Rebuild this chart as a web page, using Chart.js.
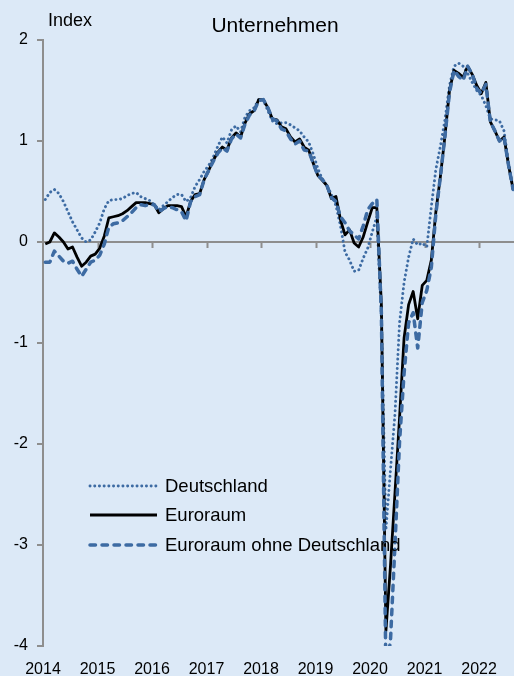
<!DOCTYPE html>
<html>
<head>
<meta charset="utf-8">
<script src="https://cdn.jsdelivr.net/npm/chart.js@4.4.1/dist/chart.umd.min.js"></script>
<style>
  html, body { margin: 0; padding: 0; background: #dce9f7; }
  canvas { display: block; }
</style>
</head>
<body>
<canvas id="chart" width="514" height="676"></canvas>
<script>
// monthly, Jan 2014 .. Aug 2022
const yearLabels = ['2014', '2015', '2016', '2017', '2018', '2019', '2020', '2021', '2022'];
const yTicks = [-4, -3, -2, -1, 0, 1, 2];

const deutschland = [
  0.42, 0.49, 0.52, 0.48, 0.40, 0.30, 0.20, 0.12, 0.04, 0.00, 0.02, 0.10,
  0.19, 0.33, 0.41, 0.42, 0.42, 0.43, 0.46, 0.48, 0.49, 0.45, 0.43, 0.41,
  0.37, 0.32, 0.36, 0.40, 0.44, 0.47, 0.47, 0.40, 0.44, 0.55, 0.62, 0.70,
  0.76, 0.84, 0.95, 1.04, 0.98, 1.11, 1.15, 1.09, 1.24, 1.30, 1.33, 1.41,
  1.41, 1.30, 1.20, 1.17, 1.18, 1.18, 1.16, 1.13, 1.10, 1.04, 0.99, 0.87,
  0.73, 0.62, 0.56, 0.47, 0.36, 0.16, -0.10, -0.18, -0.29, -0.28, -0.16, -0.06,
  0.10, 0.25, -0.75, -2.85, -2.26, -1.70, -0.80, -0.40, -0.15, 0.03, -0.03, -0.01,
  -0.05, 0.35, 0.72, 0.95, 1.21, 1.55, 1.74, 1.77, 1.74, 1.67, 1.58, 1.50,
  1.45, 1.35, 1.22, 1.21, 1.20, 1.10, 0.78, 0.52
];

const euroraum = [
  -0.02, 0.00, 0.09, 0.05, 0.00, -0.07, -0.05, -0.15, -0.24, -0.20, -0.14, -0.12,
  -0.06, 0.06, 0.24, 0.25, 0.26, 0.28, 0.31, 0.35, 0.39, 0.39, 0.39, 0.38,
  0.37, 0.29, 0.33, 0.36, 0.36, 0.36, 0.35, 0.25, 0.40, 0.47, 0.48, 0.62,
  0.71, 0.81, 0.89, 0.94, 0.91, 1.03, 1.08, 1.04, 1.18, 1.27, 1.30, 1.41,
  1.41, 1.33, 1.22, 1.21, 1.14, 1.12, 1.04, 0.99, 1.02, 0.94, 0.91, 0.78,
  0.66, 0.61, 0.56, 0.43, 0.45, 0.22, 0.07, 0.12, -0.01, -0.05, 0.05, 0.20,
  0.34, 0.34, -0.62, -3.85, -3.21, -2.48, -1.74, -0.95, -0.62, -0.49, -0.76, -0.43,
  -0.38, -0.18, 0.30, 0.65, 1.05, 1.50, 1.70, 1.67, 1.63, 1.74, 1.66, 1.55,
  1.47, 1.58, 1.19, 1.10, 1.00, 1.04, 0.76, 0.52
];

const euroraumOhneD = [
  -0.20, -0.20, -0.09, -0.14, -0.19, -0.21, -0.19, -0.27, -0.34, -0.27, -0.20, -0.18,
  -0.13, -0.02, 0.15, 0.18, 0.19, 0.21, 0.25, 0.29, 0.34, 0.37, 0.36, 0.37,
  0.37, 0.30, 0.33, 0.35, 0.34, 0.32, 0.30, 0.21, 0.40, 0.45, 0.47, 0.62,
  0.71, 0.80, 0.88, 0.93, 0.90, 1.02, 1.07, 1.03, 1.17, 1.26, 1.30, 1.40,
  1.41, 1.33, 1.22, 1.20, 1.12, 1.10, 1.02, 0.97, 1.00, 0.91, 0.90, 0.78,
  0.66, 0.62, 0.56, 0.44, 0.40, 0.25, 0.19, 0.11, 0.07, 0.03, 0.16, 0.32,
  0.38, 0.42, -0.70, -4.25, -3.95, -2.99, -1.98, -1.30, -0.80, -0.70, -1.05, -0.60,
  -0.48, -0.25, 0.28, 0.65, 1.05, 1.48, 1.70, 1.64, 1.60, 1.74, 1.66, 1.52,
  1.47, 1.56, 1.19, 1.10, 1.00, 1.04, 0.76, 0.52
];

const FONT = 'Arial, "Liberation Sans", sans-serif';
const GRAY = '#8e8e8e';
const BLUE = '#3d6ba3';

// points sit mid-month, year ticks at the start of each year
const toPoints = arr => arr.map((v, i) => ({ x: i + 0.5, y: v }));

const series = [
  { label: 'Deutschland', data: deutschland, color: BLUE, width: 2.9, dash: [0.1, 4.6], cap: 'round', order: 2 },
  { label: 'Euroraum', data: euroraum, color: '#000000', width: 2.8, dash: [], cap: 'butt', order: 1 },
  { label: 'Euroraum ohne Deutschland', data: euroraumOhneD, color: BLUE, width: 3.5, dash: [5.5, 6.5], cap: 'round', order: 0 }
];

const decor = {
  id: 'decor',
  beforeDraw(chart) {
    const ctx = chart.ctx;
    ctx.save();
    ctx.fillStyle = '#dce9f7';
    ctx.fillRect(0, 0, chart.width, chart.height);
    ctx.restore();
  },
  beforeDatasetsDraw(chart) {
    // zero line with year ticks hanging below it
    const { ctx, chartArea, scales } = chart;
    const y0 = scales.y.getPixelForValue(0);
    ctx.save();
    ctx.strokeStyle = GRAY;
    ctx.lineWidth = 2;
    ctx.beginPath();
    ctx.moveTo(chartArea.left, y0);
    ctx.lineTo(chart.width, y0);
    for (let i = 1; i < yearLabels.length; i++) {
      const x = Math.round(scales.x.getPixelForValue(i * 12)) + 0.5;
      ctx.moveTo(x, y0);
      ctx.lineTo(x, y0 + 6);
    }
    ctx.stroke();
    ctx.restore();
  },
  afterDatasetsDraw(chart) {
    const ctx = chart.ctx;
    ctx.save();
    // legend inside the plot
    const rows = [486, 515, 545];
    series.forEach((s, i) => {
      ctx.strokeStyle = s.color;
      ctx.lineWidth = s.width;
      ctx.setLineDash(s.dash);
      ctx.lineCap = s.cap;
      ctx.beginPath();
      ctx.moveTo(90, rows[i]);
      ctx.lineTo(157, rows[i]);
      ctx.stroke();
      ctx.setLineDash([]);
      ctx.fillStyle = '#000';
      ctx.font = '18.5px ' + FONT;
      ctx.textAlign = 'left';
      ctx.textBaseline = 'middle';
      ctx.fillText(s.label, 165, rows[i] + 1);
    });
    // titles
    ctx.textBaseline = 'alphabetic';
    ctx.font = '18px ' + FONT;
    ctx.fillText('Index', 48, 26);
    ctx.font = '21px ' + FONT;
    ctx.textAlign = 'center';
    ctx.fillText('Unternehmen', 275, 32);
    ctx.restore();
  }
};

new Chart(document.getElementById('chart'), {
  type: 'line',
  data: {
    datasets: series.map(s => ({
      label: s.label,
      data: toPoints(s.data),
      borderColor: s.color,
      borderWidth: s.width,
      borderDash: s.dash,
      borderCapStyle: s.cap,
      borderJoinStyle: 'round',
      pointRadius: 0,
      tension: 0,
      fill: false,
      order: s.order
    }))
  },
  options: {
    responsive: false,
    animation: false,
    layout: { padding: { top: 40, right: 0, bottom: 0, left: 0 } },
    plugins: { legend: { display: false }, tooltip: { enabled: false } },
    scales: {
      x: {
        type: 'linear',
        min: 0,
        max: 103.7,
        border: { display: false },
        grid: { display: false, drawTicks: false },
        ticks: {
          stepSize: 12,
          includeBounds: false,
          autoSkip: false,
          maxRotation: 0,
          padding: 14,
          color: '#000',
          font: { size: 16, family: FONT },
          callback: v => (v % 12 === 0 ? yearLabels[v / 12] : '')
        },
        afterFit(scale) { scale.height = 30; scale.paddingRight = 0; }
      },
      y: {
        type: 'linear',
        min: yTicks[0],
        max: yTicks[yTicks.length - 1],
        border: { display: true, color: GRAY, width: 2 },
        grid: { drawOnChartArea: false, drawTicks: true, tickLength: 6, color: GRAY, lineWidth: 2 },
        ticks: {
          stepSize: 1,
          padding: 9,
          color: '#000',
          font: { size: 16, family: FONT }
        },
        afterFit(scale) { scale.width = 43; }
      }
    }
  },
  plugins: [decor]
});
</script>
</body>
</html>
